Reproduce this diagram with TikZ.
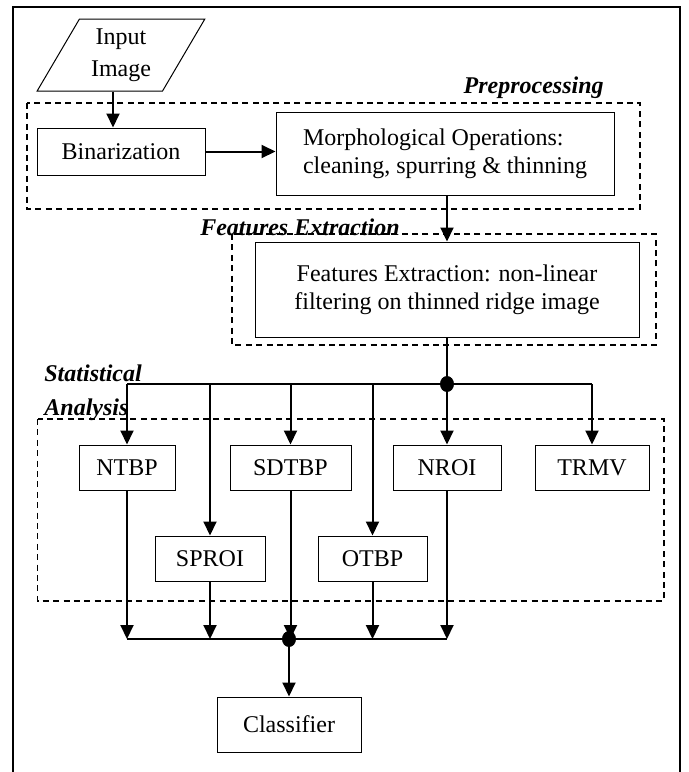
\documentclass[tikz,border=0pt]{standalone}
\usepackage{fontspec}
\setmainfont{Liberation Serif}
\usetikzlibrary{arrows.meta,shapes.geometric}
\begin{document}
\begin{tikzpicture}[x=0.5pt,y=-0.5pt,
    every node/.style={font=\fontsize{12}{14}\selectfont},
    box/.style={draw,line width=0.5pt,inner sep=0pt},
    grp/.style={draw,line width=0.8pt,dash pattern=on 3pt off 2.2pt},
    lbl/.style={font=\fontsize{12}{14}\selectfont\bfseries\itshape,inner sep=0pt},
    arr/.style={line width=1pt,-{Triangle[length=7pt,width=6.5pt]}},
    bus/.style={line width=1pt},
    jdot/.style={fill,ellipse,minimum width=7pt,minimum height=8pt,inner sep=0pt}]
  \useasboundingbox (0,0) rectangle (689,772);
  \draw[line width=1pt] (13,772) -- (13,7) -- (680,7) -- (680,772);

  % dashed groups and their titles
  \draw[grp] (27,103) rectangle (640,209);
  \draw[grp] (232,234) rectangle (656,345);
  \draw[grp] (37.5,419) rectangle (664,601);
  \node[lbl,anchor=east] (prelbl) at (604,88) {Preprocessing};
  \node[lbl] (felbl) at (300,227) {Features Extraction};
  \node[lbl,anchor=west,align=left,font=\fontsize{12}{17}\selectfont\bfseries\itshape]
    (statlbl) at (44,393) {Statistical\\Analysis};

  % blocks
  \node[draw,line width=0.5pt,trapezium,trapezium left angle=60,trapezium right angle=120,
    trapezium stretches=true,minimum width=84pt,minimum height=36pt,inner sep=0pt,
    align=center,font=\fontsize{12}{16}\selectfont] (input) at (121,55) {Input\\Image};
  \node[box,minimum width=84pt,minimum height=23.5pt] (bin) at (121,151.5) {Binarization};
  \node[box,minimum width=169pt,minimum height=41.5pt,align=left] (morph) at (445,153.5)
    {Morphological Operations:\\cleaning, spurring \& thinning};
  \node[box,minimum width=192pt,minimum height=47.5pt,align=center] (fe) at (447,289.5)
    {Features Extraction: non-linear\\filtering on thinned ridge image};
  \foreach \n/\x/\w/\t in {ntbp/127/48/NTBP,sdtbp/290.5/60.5/SDTBP,nroi/447/54/NROI,trmv/592/57/TRMV}
    \node[box,minimum width=\w pt,minimum height=22.5pt] (\n) at (\x,467.5) {\t};
  \foreach \n/\x/\w/\t in {sproi/210/55/SPROI,otbp/372.5/54.5/OTBP}
    \node[box,minimum width=\w pt,minimum height=22.5pt] (\n) at (\x,558.5) {\t};
  \node[box,minimum width=72pt,minimum height=27.5pt] (cls) at (289,724.5) {Classifier};

  % connectors
  \coordinate (inx) at (113,0);
  \draw[arr] (input.south -| inx) -- (bin.north -| inx);
  \draw[arr] (bin.east) -- (bin.east -| morph.west);
  \draw[arr] (fe.north |- morph.south) -- (fe.north);
  \node[jdot] (split) at (447,384) {};
  \draw[bus] (fe.south) -- (split.center);
  \draw[bus] (ntbp.north |- split) -- (trmv.north |- split);
  \foreach \n in {ntbp,sproi,sdtbp,otbp,nroi,trmv}
    \draw[arr] (\n.north |- split) -- (\n.north);
  \node[jdot] (join) at (289,639) {};
  \draw[bus] (ntbp.south |- join) -- (nroi.south |- join);
  \foreach \n in {ntbp,sproi,sdtbp,otbp,nroi}
    \draw[arr] (\n.south) -- (\n.south |- join);
  \draw[arr] (join.center) -- (cls.north -| join);
\end{tikzpicture}
\end{document}
